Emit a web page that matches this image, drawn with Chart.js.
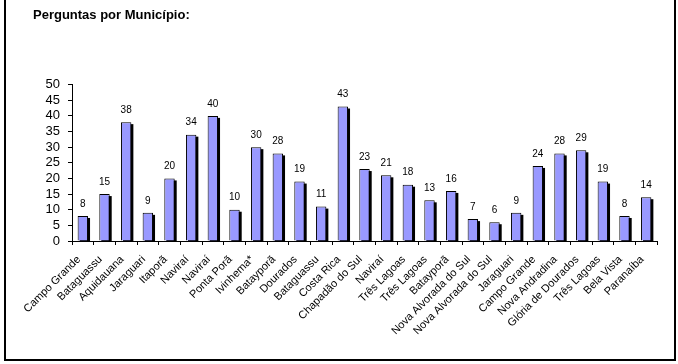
<!DOCTYPE html>
<html>
<head>
<meta charset="utf-8">
<script src="https://cdn.jsdelivr.net/npm/chart.js@4.4.0/dist/chart.umd.min.js"></script>
<style>
  html, body { margin: 0; padding: 0; background: #fff; }
  #wrap { position: relative; width: 678px; height: 364px; overflow: hidden; }
  #frame { position: absolute; left: 4px; top: -2px; width: 672px; height: 363px; box-sizing: border-box; border: 2px solid #000; pointer-events: none; }
  canvas { position: absolute; left: 0; top: 0; }
</style>
</head>
<body>
<div id="wrap">
  <canvas id="c" width="678" height="364"></canvas>
  <div id="frame"></div>
</div>
<script>
const titleText = 'Perguntas por Município:';
const categories = [
  'Campo Grande', 'Bataguassu', 'Aquidauana', 'Jaraguari', 'Itaporã', 'Naviraí', 'Naviraí',
  'Ponta Porã', 'Ivinhema*', 'Batayporã', 'Dourados', 'Bataguassu', 'Costa Rica',
  'Chapadão do Sul', 'Naviraí', 'Três Lagoas', 'Três Lagoas', 'Batayporã',
  'Nova Alvorada do Sul', 'Nova Alvorada do Sul', 'Jaraguari', 'Campo Grande',
  'Nova Andradina', 'Glória de Dourados', 'Três Lagoas', 'Bela Vista', 'Paranaíba'
];
const values = [8, 15, 38, 9, 20, 34, 40, 10, 30, 28, 19, 11, 43, 23, 21, 18, 13, 16, 7, 6, 9, 24, 28, 29, 19, 8, 14];
const yTicks = [0, 5, 10, 15, 20, 25, 30, 35, 40, 45, 50];

const FONT = "'Liberation Sans', Arial, sans-serif";

// Drop shadow behind each bar, placed from the bar elements computed by the scales
const shadowPlugin = {
  id: 'shadow',
  beforeDatasetsDraw(chart) {
    const ctx = chart.ctx;
    const meta = chart.getDatasetMeta(0);
    const area = chart.chartArea;
    ctx.save();
    ctx.beginPath();
    ctx.rect(area.left, area.top - 20, area.right - area.left, area.bottom - area.top + 20);
    ctx.clip();
    ctx.fillStyle = '#000';
    meta.data.forEach(bar => {
      const w = bar.width;
      const top = Math.min(bar.y, bar.base);
      const h = Math.abs(bar.base - bar.y);
      ctx.fillRect(bar.x - w / 2 + 2, top + 2, w, h);
    });
    ctx.restore();
  }
};

const labelPlugin = {
  id: 'valueLabels',
  afterDraw(chart) {
    const ctx = chart.ctx;
    const meta = chart.getDatasetMeta(0);
    ctx.save();
    ctx.font = '10px ' + FONT;
    ctx.fillStyle = '#000';
    ctx.textAlign = 'center';
    ctx.textBaseline = 'middle';
    meta.data.forEach((bar, i) => {
      ctx.fillText(String(values[i]), bar.x, bar.y - 12);
    });
    ctx.restore();
  }
};

new Chart(document.getElementById('c'), {
  type: 'bar',
  data: {
    labels: categories,
    datasets: [{
      data: values,
      backgroundColor: '#9999FF',
      borderColor: '#000',
      borderWidth: 1,
      barPercentage: 0.48,
      categoryPercentage: 1.0
    }]
  },
  options: {
    responsive: false,
    animation: false,
    devicePixelRatio: 1,
    layout: { padding: { left: 33, right: 21, top: 0, bottom: 0 } },
    plugins: {
      legend: { display: false },
      tooltip: { enabled: false },
      title: {
        display: true,
        text: titleText,
        align: 'start',
        color: '#000',
        font: { family: FONT, size: 13, weight: 'bold' },
        padding: { top: 8, bottom: 61 }
      }
    },
    scales: {
      x: {
        offset: true,
        grid: { display: true, drawOnChartArea: false, offset: true, color: '#000', tickLength: 4, tickColor: '#000' },
        border: { display: true, color: '#000', width: 1 },
        ticks: {
          color: '#000',
          font: { family: FONT, size: 11 },
          minRotation: 45,
          maxRotation: 45,
          autoSkip: false,
          labelOffset: -4,
          padding: 8
        },
        afterFit(s) { s.height = 123; s.paddingLeft = 0; s.paddingRight = 0; }
      },
      y: {
        min: 0,
        max: 50,
        afterBuildTicks(s) { s.ticks = yTicks.map(v => ({ value: v })); },
        grid: { display: true, drawOnChartArea: false, color: '#000', tickLength: 4, tickColor: '#000' },
        border: { display: true, color: '#000', width: 1 },
        ticks: {
          color: '#000',
          font: { family: FONT, size: 13 },
          padding: 8,
          autoSkip: false
        },
        afterFit(s) { s.width = 39; s.paddingTop = 0; s.paddingBottom = 0; }
      }
    }
  },
  plugins: [shadowPlugin, labelPlugin]
});
</script>
</body>
</html>
